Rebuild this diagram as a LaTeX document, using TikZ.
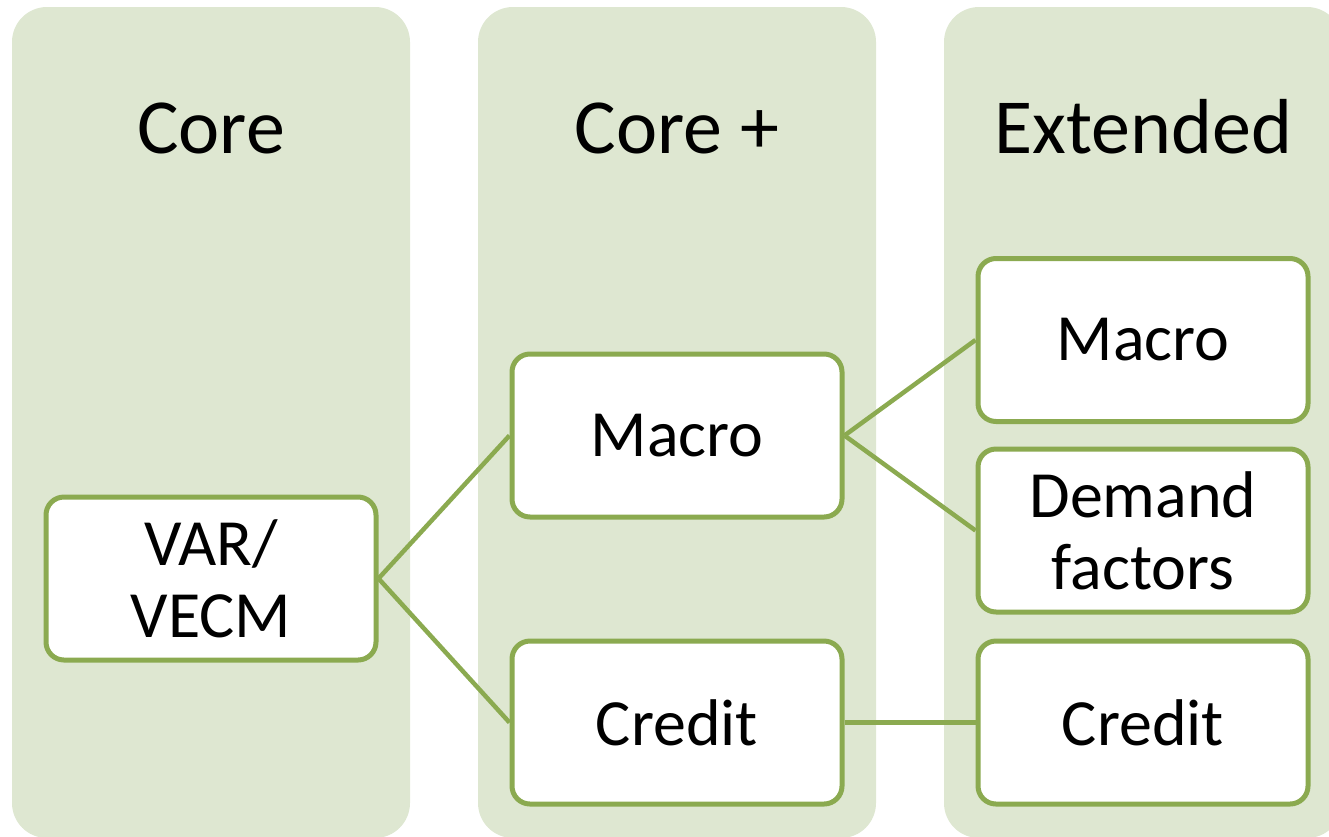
\documentclass[tikz,border=0pt]{standalone}
\usepackage{fontspec}
\setmainfont{Carlito}
\definecolor{panelfill}{RGB}{222,231,209}
\definecolor{leaf}{RGB}{139,170,80}
\tikzset{
  panel/.style={fill=panelfill, draw=none, rounded corners=35pt},
  item/.style={rectangle, rounded corners=18pt, draw=leaf, line width=5pt, fill=white,
    minimum width=330pt, minimum height=163pt, inner sep=0pt, align=center,
    font=\fontsize{66}{72}\selectfont},
  heading/.style={anchor=base, inner sep=0pt, font=\fontsize{78}{94}\selectfont},
  link/.style={draw=leaf, line width=4.5pt}
}
\begin{document}
\begin{tikzpicture}[x=1pt, y=-1pt]
  \useasboundingbox (0,0) rectangle (1329,836);
  \clip (0,0) rectangle (1329,836);
  % three column panels
  \fill[panel] (12,7) rectangle (410,838);
  \fill[panel] (478,7) rectangle (876,838);
  \fill[panel] (944,7) rectangle (1342,838);
  % column headings
  \node[heading] (h1) at (211,153) {Core};
  \node[heading] (h2) at (677,153) {Core +};
  \node[heading] (h3) at (1143,153) {Extended};
  % model blocks
  \node[item] (var) at (211,578.5) {VAR/\\VECM};
  \node[item] (macroA) at (677,435.5) {Macro};
  \node[item] (creditA) at (677,722.5) {Credit};
  \node[item] (macroB) at (1143,340) {Macro};
  \node[item] (demand) at (1143,530.5) {Demand\\factors};
  \node[item] (creditB) at (1143,722.5) {Credit};
  % connectors
  \draw[link] (var.east) -- (macroA.west);
  \draw[link] (var.east) -- (creditA.west);
  \draw[link] (macroA.east) -- (macroB.west);
  \draw[link] (macroA.east) -- (demand.west);
  \draw[link] (creditA.east) -- (creditB.west);
\end{tikzpicture}
\end{document}
